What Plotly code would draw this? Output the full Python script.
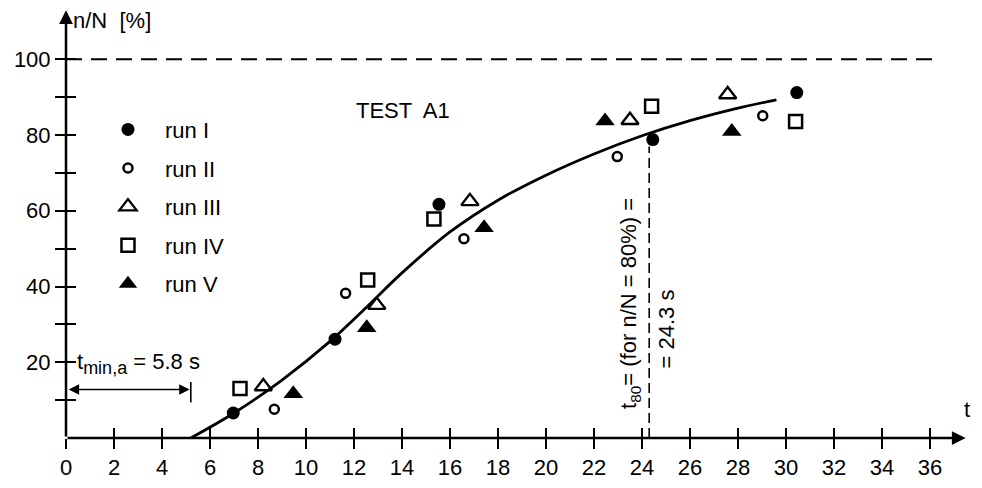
import plotly.graph_objects as go

# ---------------- data ----------------
run_names = ["run I", "run II", "run III", "run IV", "run V"]
run1_t = [6.97, 11.21, 15.54, 24.45, 30.45]
run1_y = [6.6, 26.1, 61.7, 78.8, 91.2]
run2_t = [8.68, 11.65, 16.58, 22.97, 29.03]
run2_y = [7.6, 38.2, 52.6, 74.3, 85.1]
run3_t = [8.22, 12.95, 16.83, 23.5, 27.57]
run3_y = [13.6, 35.1, 62.5, 83.9, 90.7]
run4_t = [7.25, 12.57, 15.33, 24.4, 30.4]
run4_y = [13.1, 41.7, 57.8, 87.6, 83.6]
run5_t = [9.47, 12.53, 17.42, 22.46, 27.74]
run5_y = [11.7, 29.1, 55.5, 83.7, 80.9]

fit_t = [5.2, 7.0, 9.0, 11.0, 12.5, 14.0, 16.0, 18.0, 20.0, 22.0, 24.0, 26.0, 28.0, 29.6]
fit_y = [0.0, 6.6, 15.3, 25.5, 34.4, 43.6, 54.4, 62.8, 69.4, 75.0, 79.8, 83.8, 87.1, 89.3]

x_ticks = list(range(0, 37, 2))
x_labels = [str(v) for v in x_ticks]
y_ticks = list(range(10, 101, 10))
y_labels = [str(v) if v % 20 == 0 else "" for v in y_ticks]

t_min_drawn = 5.2
t_min_label = "5.8 s"
t_80 = 24.3
full_level = 100

FONT = "Liberation Sans, Arial, sans-serif"
FS = 22

fig = go.Figure()

# fitted curve
fig.add_trace(go.Scatter(x=fit_t, y=fit_y, mode="lines", showlegend=False,
                         line=dict(color="black", width=2.8, shape="spline", smoothing=1.0),
                         xaxis="x2", yaxis="y2", hoverinfo="skip"))

styles = [
    dict(symbol="circle", size=13, color="black", line=dict(color="black", width=0)),
    dict(symbol="circle-open", size=9, color="black", line=dict(color="black", width=2.5)),
    dict(symbol="triangle-up-open", size=15, color="black", line=dict(color="black", width=2.3)),
    dict(symbol="square-open", size=13, color="black", line=dict(color="black", width=2.5)),
    dict(symbol="triangle-up", size=17, color="black", line=dict(color="black", width=0)),
]
series = [(run1_t, run1_y), (run2_t, run2_y), (run3_t, run3_y), (run4_t, run4_y), (run5_t, run5_y)]
for i, ((tx, ty), name) in enumerate(zip(series, run_names)):
    fig.add_trace(go.Scatter(x=tx, y=ty, mode="markers", name=name, marker=styles[i],
                             legendgroup=f"g{i}"))

# ---------------- axes ----------------
XR = [0, 902 / 24]
YR = [0, 436 / 3.84]
common_x = dict(range=XR, tickvals=x_ticks, showgrid=False, zeroline=False, showline=False,
                ticklen=10, tickwidth=2, tickcolor="black")
common_y = dict(range=YR, tickvals=y_ticks, showgrid=False, zeroline=False, showline=False,
                ticklen=10, tickwidth=2, tickcolor="black")
fig.update_layout(
    xaxis=dict(**common_x, ticks="outside", ticktext=x_labels,
               tickfont=dict(family=FONT, size=FS, color="black")),
    yaxis=dict(**common_y, ticks="outside", ticktext=y_labels,
               tickfont=dict(family=FONT, size=FS, color="black")),
    xaxis2=dict(**common_x, ticks="inside", overlaying="x", anchor="y2", side="bottom",
                matches="x", showticklabels=False),
    yaxis2=dict(**common_y, ticks="inside", overlaying="y", anchor="x2", side="left",
                matches="y", showticklabels=False),
)

# axis lines with arrowheads
fig.add_annotation(x=XR[1] - 0.1, y=0, ax=0, ay=0, xref="x", yref="y", axref="x", ayref="y",
                   text="", showarrow=True, arrowhead=2, arrowsize=1.1, arrowwidth=2.5,
                   arrowcolor="black")
fig.add_annotation(x=0, y=YR[1] - 0.6, ax=0, ay=0, xref="x", yref="y", axref="x", ayref="y",
                   text="", showarrow=True, arrowhead=2, arrowsize=1.1, arrowwidth=2.5,
                   arrowcolor="black")

# dashed reference lines
fig.add_shape(type="line", x0=0, x1=36.3, y0=full_level, y1=full_level, xref="x", yref="y",
              line=dict(color="black", width=2, dash="16px,9px"))
fig.add_shape(type="line", x0=t_80, x1=t_80, y0=0, y1=77, xref="x", yref="y",
              line=dict(color="black", width=1.6, dash="10px,5px"))

# t_min double arrow + end bar
fig.add_annotation(x=t_min_drawn - 0.05, y=12.8, ax=0.05, ay=12.8, xref="x", yref="y",
                   axref="x", ayref="y", text="", showarrow=True, arrowhead=2, arrowside="end+start",
                   arrowsize=1.3, arrowwidth=1.6, arrowcolor="black")
fig.add_shape(type="line", x0=t_min_drawn, x1=t_min_drawn, y0=9.4, y1=14.8, xref="x", yref="y",
              line=dict(color="black", width=1.6))

txt = dict(family=FONT, size=FS, color="black")
fig.add_annotation(x=3.04, y=19.6, xref="x", yref="y",
                   text="t<sub><span style='font-size:18px'>min,a</span></sub> = " + t_min_label,
                   showarrow=False, font=txt)
fig.add_annotation(x=14.04, y=86.5, xref="x", yref="y", text="TEST  A1", showarrow=False, font=txt)
fig.add_annotation(x=1.9, y=110.2, xref="x", yref="y", text="n/N  [%]", showarrow=False, font=txt)
fig.add_annotation(x=37.55, y=7.6, xref="x", yref="y", text="t", showarrow=False, font=txt)
fig.add_annotation(x=37.2, y=-7.4, xref="x", yref="y", text="[s]", showarrow=False, font=txt)
fig.add_annotation(x=23.5, y=35.4, xref="x", yref="y", textangle=-90,
                   text="t<sub>80</sub>= (for n/N = 80%) =", showarrow=False, font=txt)
fig.add_annotation(x=25.04, y=28.9, xref="x", yref="y", textangle=-90,
                   text="= 24.3 s", showarrow=False, font=txt)

fig.update_layout(
    width=966, height=472,
    margin=dict(l=58, r=6, t=0, b=36),
    paper_bgcolor="white", plot_bgcolor="white",
    font=dict(family=FONT, size=FS, color="black"),
    showlegend=True,
    legend=dict(x=0.0277, y=0.766, xanchor="left", yanchor="top", bgcolor="rgba(0,0,0,0)",
                font=dict(family=FONT, size=FS, color="black"), tracegroupgap=7,
                itemwidth=64, traceorder="grouped"),
)

fig.write_html("out.html")
